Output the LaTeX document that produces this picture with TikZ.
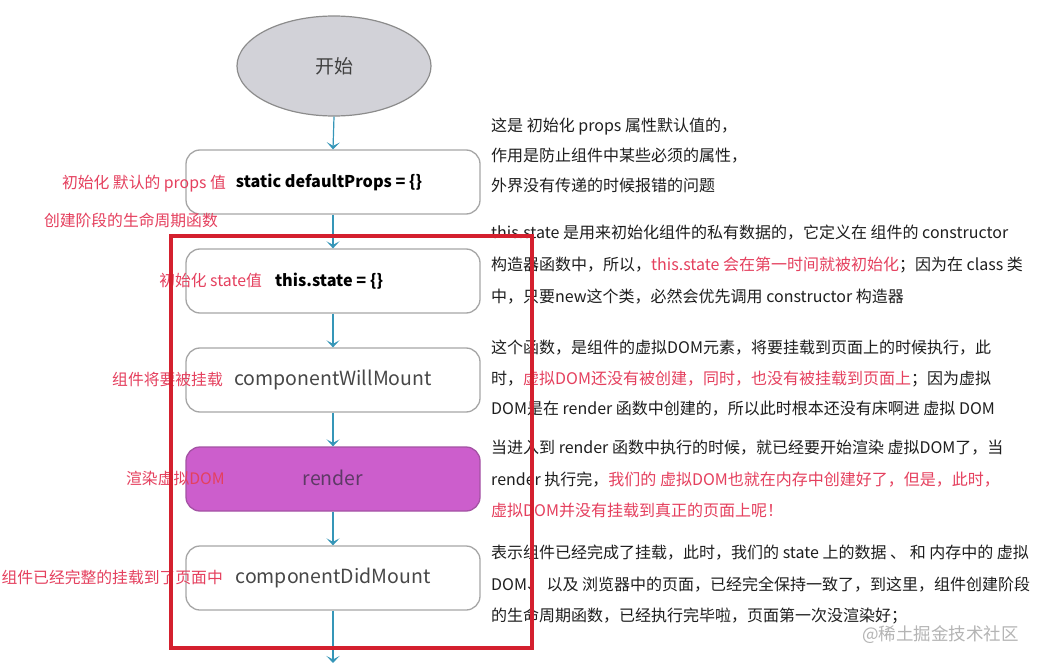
\documentclass[tikz,border=0pt]{standalone}
\usepackage{fontspec}
\setmainfont{Noto Sans CJK SC}
\usetikzlibrary{arrows.meta,shapes.geometric}
\definecolor{arrowc}{HTML}{3596B8}
\definecolor{boxborder}{HTML}{A6A6A6}
\definecolor{redlabel}{HTML}{E5405E}
\definecolor{redframe}{HTML}{D4202E}
\definecolor{rendfill}{HTML}{CC5ECC}
\definecolor{rendborder}{HTML}{A452A4}
\definecolor{rendtext}{HTML}{5E3A66}
\definecolor{ellfill}{HTML}{D2D2D8}
\definecolor{ellborder}{HTML}{8C8C8C}
\definecolor{bodytext}{HTML}{1E1E1E}
\definecolor{wmark}{HTML}{B4B4B4}
\tikzset{
  stepbox/.style={draw=boxborder, line width=1.3pt, rounded corners=14pt, fill=white,
    minimum width=294, minimum height=64, inner sep=0},
  flow/.style={draw=arrowc, line width=1.2pt, -{Stealth[length=7pt,width=13pt,inset=3.5pt]}},
  leftlab/.style={anchor=base east, inner sep=0, text=redlabel, font=\fontsize{15.8}{18}\selectfont},
  desc/.style={anchor=base west, inner sep=0, text=bodytext, font=\fontsize{16}{18}\selectfont},
  boxbold/.style={font=\bfseries\fontsize{16.2}{18}\selectfont, text=black, inner sep=0},
  boxplain/.style={font=\fontsize{19.5}{22}\selectfont, text=black!72, inner sep=0},
}
\newcommand{\hl}[1]{\textcolor{redlabel}{#1}}
\begin{document}
\begin{tikzpicture}[x=1pt,y=-1pt]
\useasboundingbox[fill=white] (0,0) rectangle (1041,663);

% start ellipse
\node (start) [ellipse, draw=ellborder, line width=1.2pt, fill=ellfill,
  minimum width=194, minimum height=100, inner sep=0,
  font=\fontsize{19}{22}\selectfont, text=black!75] at (334,66) {开始};

% boxes
\node (b1) [stepbox] at (333,182) {};
\node (t1) [boxbold] at (329,182) {static defaultProps = \{\}};
\node (b2) [stepbox] at (333,281) {};
\node (t2) [boxbold] at (329,281) {this.state = \{\}};
\node (b3) [stepbox] at (333,380) {};
\node (t3) [boxplain] at (333,380) {componentWillMount};
\node (b4) [stepbox, draw=rendborder, fill=rendfill] at (333,479) {};
\node (t4) [boxplain, text=rendtext] at (333,478) {render};
\node (b5) [stepbox] at (333,578) {};
\node (t5) [boxplain] at (333,578) {componentDidMount};
\coordinate (end) at (333,663);

% connectors
\draw[flow] (start.south) -- (b1.north);
\draw[flow] (b1.south) -- (b2.north);
\draw[flow] (b2.south) -- (b3.north);
\draw[flow] (b3.south) -- (b4.north);
\draw[flow] (b4.south) -- (b5.north);
\draw[flow] (b5.south) -- (end);

% left labels
\node (l1) [leftlab] at (226,189) {初始化 默认的 props 值};
\node (l0) [leftlab] at (218,226) {创建阶段的生命周期函数};
\node (l2) [leftlab] at (262,286) {初始化 state值};
\node (l3) [leftlab] at (223,385) {组件将要被挂载};
\node (l4) [leftlab] at (225,484) {渲染虚拟DOM};
\node (l5) [leftlab] at (223,583) {组件已经完整的挂载到了页面中};

% right descriptions
\node (d11) [desc] at (491,132) {这是 初始化 props 属性默认值的，};
\node (d12) [desc] at (491,162) {作用是防止组件中某些必须的属性，};
\node (d13) [desc] at (491,192) {外界没有传递的时候报错的问题};

\node (d21) [desc] at (491,238) {this.state 是用来初始化组件的私有数据的，它定义在 组件的 constructor};
\node (d22) [desc] at (491,270) {构造器函数中，所以，\hl{this.state 会在第一时间就被初始化}；因为在 class 类};
\node (d23) [desc] at (491,302) {中，只要new这个类，必然会优先调用 constructor 构造器};

\node (d31) [desc] at (491,353) {这个函数，是组件的虚拟DOM元素，将要挂载到页面上的时候执行，此};
\node (d32) [desc] at (491,384) {时，\hl{虚拟DOM还没有被创建，同时，也没有被挂载到页面上}；因为虚拟};
\node (d33) [desc] at (491,414) {DOM是在 render 函数中创建的，所以此时根本还没有床啊进 虚拟 DOM};

\node (d41) [desc] at (491,453) {当进入到 render 函数中执行的时候，就已经要开始渲染 虚拟DOM了，当};
\node (d42) [desc] at (491,485) {render 执行完，\hl{我们的 虚拟DOM也就在内存中创建好了，但是，此时，}};
\node (d43) [desc] at (491,516) {\hl{虚拟DOM并没有挂载到真正的页面上呢！}};

\node (d51) [desc] at (491,558) {表示组件已经完成了挂载，此时，我们的 state 上的数据 、 和 内存中的 虚拟};
\node (d52) [desc] at (491,590) {DOM、 以及 浏览器中的页面，已经完全保持一致了，到这里，组件创建阶段};
\node (d53) [desc] at (491,621) {的生命周期函数，已经执行完毕啦，页面第一次没渲染好；};

\node (wm) [anchor=base west, inner sep=0, text=wmark, font=\fontsize{17.5}{20}\selectfont] at (862,640) {@稀土掘金技术社区};

% red phase frame
\node (phase) [draw=redframe, line width=3.5pt, minimum width=361, minimum height=412, inner sep=0] at (351.5,442) {};
\end{tikzpicture}
\end{document}
